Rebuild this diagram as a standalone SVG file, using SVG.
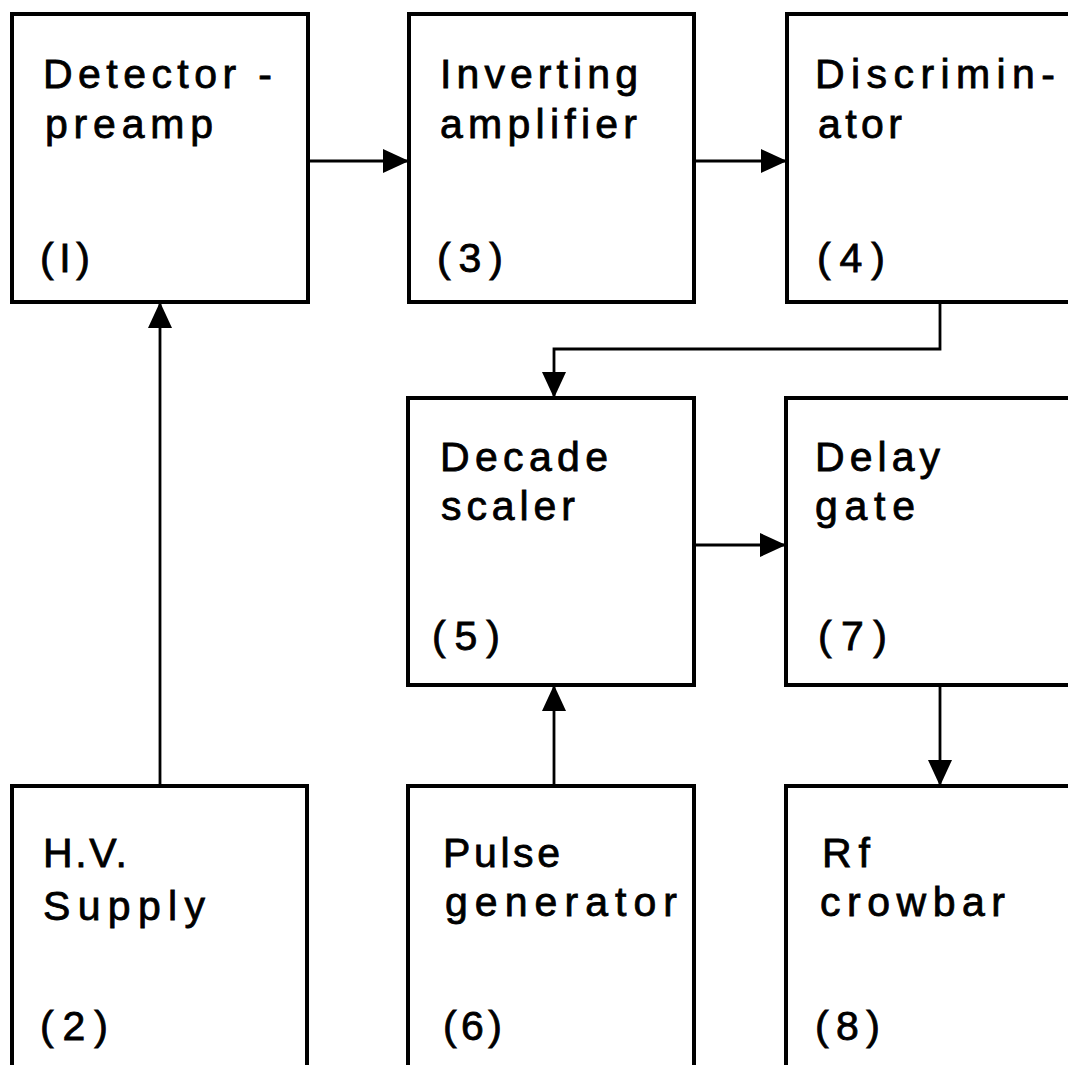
<svg xmlns="http://www.w3.org/2000/svg" width="1068" height="1065" viewBox="0 0 1068 1065">
<style>
.box{fill:#fff;stroke:#000;stroke-width:4}
.lbl{font-family:"Liberation Sans","DejaVu Sans",sans-serif;font-size:41px;fill:#000;stroke:#000;stroke-width:0.8}
.con{fill:none;stroke:#000;stroke-width:2.8}
</style>
<defs>
<marker id="ah" markerUnits="userSpaceOnUse" markerWidth="26" markerHeight="24" refX="26" refY="12" orient="auto">
<path d="M0,0 L26,12 L0,24 Z" fill="#000"/>
</marker>
</defs>
<rect x="0" y="0" width="1068" height="1065" fill="#fff"/>
<g id="connectors">
<line class="con" x1="308" y1="161" x2="409" y2="161" marker-end="url(#ah)"/>
<line class="con" x1="694" y1="161" x2="787" y2="161" marker-end="url(#ah)"/>
<polyline class="con" points="940,302 940,349 554,349 554,398" marker-end="url(#ah)"/>
<line class="con" x1="694" y1="545" x2="786" y2="545" marker-end="url(#ah)"/>
<line class="con" x1="160" y1="786" x2="160" y2="302" marker-end="url(#ah)"/>
<line class="con" x1="554" y1="786" x2="554" y2="685" marker-end="url(#ah)"/>
<line class="con" x1="940" y1="685" x2="940" y2="786" marker-end="url(#ah)"/>
</g>
<g id="n1">
<rect class="box" x="12" y="14" width="296" height="288"/>
<text class="lbl" x="43" y="88" textLength="229" lengthAdjust="spacing">Detector -</text>
<text class="lbl" x="45" y="138" textLength="168" lengthAdjust="spacing">preamp</text>
<text class="lbl" x="40" y="272" textLength="50" lengthAdjust="spacing">(I)</text>
</g>
<g id="n3">
<rect class="box" x="409" y="14" width="285" height="288"/>
<text class="lbl" x="440" y="88" textLength="198" lengthAdjust="spacing">Inverting</text>
<text class="lbl" x="440" y="138" textLength="197" lengthAdjust="spacing">amplifier</text>
<text class="lbl" x="437" y="272" textLength="66" lengthAdjust="spacing">(3)</text>
</g>
<g id="n4">
<rect class="box" x="787" y="14" width="300" height="288"/>
<text class="lbl" x="815" y="88" textLength="240" lengthAdjust="spacing">Discrimin-</text>
<text class="lbl" x="818" y="138" textLength="84" lengthAdjust="spacing">ator</text>
<text class="lbl" x="817" y="272" textLength="68" lengthAdjust="spacing">(4)</text>
</g>
<g id="n5">
<rect class="box" x="408" y="398" width="286" height="287"/>
<text class="lbl" x="440" y="471" textLength="168" lengthAdjust="spacing">Decade</text>
<text class="lbl" x="441" y="520" textLength="134" lengthAdjust="spacing">scaler</text>
<text class="lbl" x="432" y="650" textLength="68" lengthAdjust="spacing">(5)</text>
</g>
<g id="n7">
<rect class="box" x="786" y="398" width="300" height="287"/>
<text class="lbl" x="815" y="471" textLength="125" lengthAdjust="spacing">Delay</text>
<text class="lbl" x="815" y="520" textLength="100" lengthAdjust="spacing">gate</text>
<text class="lbl" x="818" y="650" textLength="69" lengthAdjust="spacing">(7)</text>
</g>
<g id="n2">
<rect class="box" x="12" y="786" width="295" height="300"/>
<text class="lbl" x="43" y="867" textLength="84" lengthAdjust="spacing">H.V.</text>
<text class="lbl" x="43" y="920" textLength="162" lengthAdjust="spacing">Supply</text>
<text class="lbl" x="40" y="1040" textLength="68" lengthAdjust="spacing">(2)</text>
</g>
<g id="n6">
<rect class="box" x="408" y="786" width="286" height="300"/>
<text class="lbl" x="443" y="867" textLength="117" lengthAdjust="spacing">Pulse</text>
<text class="lbl" x="445" y="916" textLength="232" lengthAdjust="spacing">generator</text>
<text class="lbl" x="443" y="1040" textLength="59" lengthAdjust="spacing">(6)</text>
</g>
<g id="n8">
<rect class="box" x="786" y="786" width="300" height="300"/>
<text class="lbl" x="822" y="867" textLength="48" lengthAdjust="spacing">Rf</text>
<text class="lbl" x="820" y="916" textLength="185" lengthAdjust="spacing">crowbar</text>
<text class="lbl" x="815" y="1040" textLength="65" lengthAdjust="spacing">(8)</text>
</g>
</svg>
